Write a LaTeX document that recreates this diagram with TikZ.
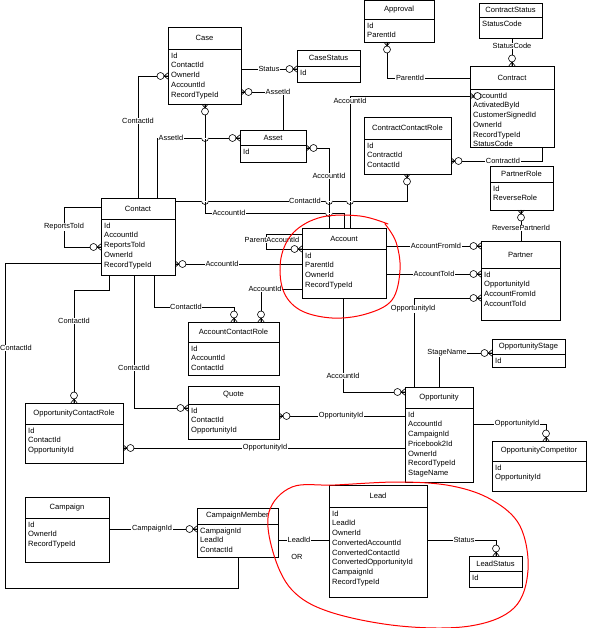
\documentclass[tikz,border=0pt]{standalone}
\usepackage{fontspec}
\setmainfont{Liberation Sans}
\usetikzlibrary{fit}
\tikzset{
  box/.style={draw,line width=0.7pt,inner sep=0pt},
  ttl/.style={inner sep=0pt,font=\fontsize{7.6}{9}\selectfont},
  fld/.style={inner sep=0pt,align=left,anchor=north west,font=\fontsize{7.6}{9.75}\selectfont},
  lbl/.style={fill=white,inner sep=0.6pt,font=\fontsize{7.4}{9}\selectfont},
  cn/.style={line width=0.6pt},
  crow/.pic={\draw[line width=0.6pt] (-4,0)--(0,3.2) (-4,0)--(0,-3.2) (-4,0)--(0,0);
             \draw[line width=0.6pt,fill=white] (-7.5,0) circle (3.5);},
  redline/.style={draw=red,line width=1pt,line cap=round}
}
\newcommand\ent[8]{%
  \node[box,fit={(#2,#3)(#4,#5)}] (#1) {};
  \draw[line width=0.7pt] (#2,#6)--(#4,#6);
  \node[ttl] (#1t) at ({(#2+#4)/2},{(#3+#6)/2}) {#7};
  \node[fld] (#1f) at ({#2+3},{#6+3.5}) {#8};
}
\newcommand\hop[2]{\draw[cn,fill=white,draw=white] ({#1-3.5},#2) rectangle ({#1+3.5},{#2+0.5});
  \draw[cn] ({#1-3.5},#2) arc (180:0:3.5);}
\begin{document}
\begin{tikzpicture}[x=1pt,y=-1pt]
\useasboundingbox[fill=white] (0,0) rectangle (600,628);
% entities
\ent{case}{168}{27}{241}{104}{49}{Case}{Id\\ContactId\\OwnerId\\AccountId\\RecordTypeId}
\ent{casestatus}{297}{50}{360}{82}{66}{CaseStatus}{Id}
\ent{approval}{364}{0}{434}{42}{19}{Approval}{Id\\ParentId}
\ent{contractstatus}{479}{3}{542}{38}{17}{ContractStatus}{StatusCode}
\ent{contract}{470}{66}{554}{147}{89}{Contract}{AccountId\\ActivatedById\\CustomerSignedId\\OwnerId\\RecordTypeId\\StatusCode}
\ent{ccr}{364}{117}{451}{174}{139}{ContractContactRole}{Id\\ContractId\\ContactId}
\ent{asset}{240}{130}{306}{162}{145}{Asset}{Id}
\ent{partnerrole}{490}{166}{553}{210}{182}{PartnerRole}{Id\\ReverseRole}
\ent{partner}{481}{241}{560}{320}{268}{Partner}{Id\\OpportunityId\\AccountFromId\\AccountToId}
\ent{account}{302}{228}{386}{298}{249}{Account}{Id\\ParentId\\OwnerId\\RecordTypeId}
\ent{contact}{101}{198}{175}{275}{219}{Contact}{Id\\AccountId\\ReportsToId\\OwnerId\\RecordTypeId}
\ent{acr}{188}{322}{279}{375}{342}{AccountContactRole}{Id\\AccountId\\ContactId}
\ent{quote}{188}{386}{279}{439}{404}{Quote}{Id\\ContactId\\OpportunityId}
\ent{ocr}{25}{403}{123}{463}{424}{OpportunityContactRole}{Id\\ContactId\\OpportunityId}
\ent{oppstage}{492}{339}{565}{367}{354}{OpportunityStage}{Id}
\ent{opp}{405}{387}{473}{482}{408}{Opportunity}{Id\\AccountId\\CampaignId\\Pricebook2Id\\OwnerId\\RecordTypeId\\StageName}
\ent{oppcomp}{492}{441}{586}{491}{461}{OpportunityCompetitor}{Id\\OpportunityId}
\ent{campaign}{25}{497}{109}{562}{518}{Campaign}{Id\\OwnerId\\RecordTypeId}
\ent{cm}{197}{508}{278}{557}{524}{CampaignMember}{CampaignId\\LeadId\\ContactId}
\ent{lead}{329}{485}{427}{597}{507}{Lead}{Id\\LeadId\\OwnerId\\ConvertedAccountId\\ConvertedContactId\\ConvertedOpportunityId\\CampaignId\\RecordTypeId}
\ent{leadstatus}{469}{556}{522}{587}{571}{LeadStatus}{Id}
% connectors
\draw[cn] (contact.north -| 138,0) -- (138,76) -- (case.west |- 0,76);
\draw[cn] (case.east |- 0,69) -- (casestatus.west |- 0,69);
\draw[cn] (asset.north -| 283,0) -- (283,92) -- (case.east |- 0,92);
\draw[cn] (contact.north -| 157,0) -- (157,138) -- (asset.west |- 0,138);
\draw[cn] (case.south -| 205,0) -- (205,213) -- (344,213) -- (account.north -| 344,0);
\draw[cn] (asset.east |- 0,148) -- (329,148) -- (account.north -| 329,0);
\draw[cn] (contract.west |- 0,96) -- (350,96) -- (account.north -| 350,0);
\draw[cn] (contact.east |- 0,201) -- (407,201) -- (ccr.south -| 407,0);
\draw[cn] (approval.south -| 387,0) -- (387,78) -- (contract.west |- 0,78);
\draw[cn] (contract.north -| 512,0) -- (contractstatus.south -| 512,0);
\draw[cn] (ccr.east |- 0,161) -- (542,161) -- (contract.south -| 542,0);
\draw[cn] (partnerrole.south -| 521,0) -- (partner.north -| 521,0);
\draw[cn] (account.east |- 0,246) -- (partner.west |- 0,246);
\draw[cn] (account.east |- 0,274) -- (partner.west |- 0,274);
\draw[cn] (account.west |- 0,234) -- (266,234) -- (266,249) -- (account.west |- 0,249);
\draw[cn] (contact.east |- 0,264) -- (account.west |- 0,264);
\draw[cn] (account.west |- 0,289) -- (261,289) -- (acr.north -| 261,0);
\draw[cn] (contact.south -| 154,0) -- (154,307) -- (234,307) -- (acr.north -| 234,0);
\draw[cn] (contact.west |- 0,207) -- (64,207) -- (64,247) -- (contact.west |- 0,247);
\draw[cn] (contact.west |- 0,263) -- (5,263) -- (5,588) -- (238,588) -- (cm.south -| 238,0);
\draw[cn] (contact.south -| 109,0) -- (109,290) -- (74,290) -- (ocr.north -| 74,0);
\draw[cn] (contact.south -| 134,0) -- (134,408) -- (quote.west |- 0,408);
\draw[cn] (quote.east |- 0,416) -- (opp.west |- 0,416);
\draw[cn] (ocr.east |- 0,448) -- (opp.west |- 0,448);
\draw[cn] (account.south -| 343,0) -- (343,392) -- (opp.west |- 0,392);
\draw[cn] (opp.north -| 414,0) -- (414,298) -- (partner.west |- 0,298);
\draw[cn] (opp.north -| 439,0) -- (439,353) -- (oppstage.west |- 0,353);
\draw[cn] (opp.east |- 0,424) -- (546,424) -- (oppcomp.north -| 546,0);
\draw[cn] (campaign.east |- 0,529) -- (cm.west |- 0,529);
\draw[cn] (cm.east |- 0,540) -- (lead.west |- 0,540);
\draw[cn] (lead.east |- 0,540) -- (496,540) -- (leadstatus.north -| 496,0);
% hops
\hop{205}{138}
\hop{205}{201}\hop{329}{201}\hop{350}{201}
\hop{329}{213}
% crow's feet
\pic at (168,76) {crow};
\pic at (297,69) {crow};
\pic[rotate=180] at (241,92) {crow};
\pic at (240,138) {crow};
\pic[rotate=90] at (205,104) {crow};
\pic[rotate=180] at (306,148) {crow};
\pic[rotate=180] at (470,96) {crow};
\pic[rotate=90] at (407,174) {crow};
\pic[rotate=90] at (387,42) {crow};
\pic[rotate=-90] at (512,66) {crow};
\pic[rotate=180] at (451,161) {crow};
\pic[rotate=90] at (521,210) {crow};
\pic at (481,246) {crow};
\pic at (481,274) {crow};
\pic at (302,249) {crow};
\pic[rotate=180] at (175,264) {crow};
\pic[rotate=-90] at (261,322) {crow};
\pic[rotate=-90] at (234,322) {crow};
\pic at (101,247) {crow};
\pic[rotate=-90] at (74,403) {crow};
\pic at (188,408) {crow};
\pic[rotate=180] at (279,416) {crow};
\pic[rotate=180] at (123,448) {crow};
\pic at (405,392) {crow};
\pic at (481,298) {crow};
\pic at (492,353) {crow};
\pic[rotate=-90] at (546,441) {crow};
\pic at (197,529) {crow};
\pic[rotate=-90] at (496,556) {crow};
% labels
\node[lbl] (l1) at (138,121) {ContactId};
\node[lbl] (l2) at (269,69) {Status};
\node[lbl] (l3) at (278,92) {AssetId};
\node[lbl] (l4) at (171,138) {AssetId};
\node[lbl] (l5) at (229,213) {AccountId};
\node[lbl] (l6) at (329,176) {AccountId};
\node[lbl] (l7) at (350,101) {AccountId};
\node[lbl] (l8) at (305,201) {ContactId};
\node[lbl] (l9) at (410,78) {ParentId};
\node[lbl] (l10) at (512,46) {StatusCode};
\node[lbl] (l11) at (503,161) {ContractId};
\node[lbl] (l12) at (521,228) {ReversePartnerId};
\node[lbl] (l13) at (436,246) {AccountFromId};
\node[lbl] (l14) at (434,274) {AccountToId};
\node[lbl] (l15) at (272,240) {ParentAccountId};
\node[lbl] (l16) at (222,264) {AccountId};
\node[lbl] (l17) at (265,289) {AccountId};
\node[lbl] (l18) at (186,307) {ContactId};
\node[lbl] (l19) at (64,227) {ReportsToId};
\node[lbl] (l20) at (16,348) {ContactId};
\node[lbl] (l21) at (74,321) {ContactId};
\node[lbl] (l22) at (134,368) {ContactId};
\node[lbl] (l23) at (341,416) {OpportunityId};
\node[lbl] (l24) at (265,448) {OpportunityId};
\node[lbl] (l25) at (343,376) {AccountId};
\node[lbl] (l26) at (413,309) {OpportunityId};
\node[lbl] (l27) at (447,353) {StageName};
\node[lbl] (l28) at (517,424) {OpportunityId};
\node[lbl] (l29) at (152,529) {CampaignId};
\node[lbl] (l30) at (299,540) {LeadId};
\node[lbl] (l31) at (297,557) {OR};
\node[lbl] (l32) at (464,540) {Status};
% red hand-drawn marks
\draw[redline] plot[smooth,tension=0.6] coordinates {(388,224) (360,216) (322,217) (294,232) (281,258) (283,290) (300,310) (332,318) (366,314) (392,300) (400,270) (396,242) (385,224)};
\draw[redline] plot[smooth cycle,tension=0.6] coordinates {(292,487) (269,512) (273,552) (292,590) (330,612) (400,626) (470,626) (514,608) (528,570) (520,526) (492,500) (452,486) (400,482) (335,485)};
\end{tikzpicture}
\end{document}
